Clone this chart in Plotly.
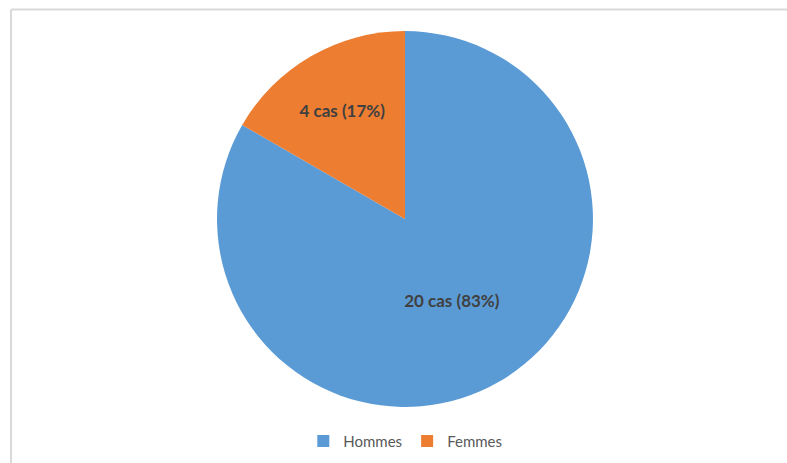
import plotly.graph_objects as go

labels = ["Hommes", "Femmes"]
cases = [20, 4]
colors = ["#5B9BD5", "#ED7D31"]

fig = go.Figure()
fig.add_trace(go.Pie(
    labels=labels,
    values=cases,
    sort=False,
    direction="clockwise",
    rotation=0,
    marker=dict(colors=colors, line=dict(width=0)),
    texttemplate="<b>%{value} cas (%{percent:.0%})</b>",
    textposition="inside",
    insidetextorientation="horizontal",
    textfont=dict(family="Lato, Carlito, sans-serif", size=17, color="#404040"),
    hoverinfo="label+value+percent",
    domain=dict(x=[0.2757, 0.7535], y=[0.121, 0.933]),
))

fig.update_layout(
    width=787, height=463,
    margin=dict(l=0, r=0, t=0, b=0),
    paper_bgcolor="white",
    plot_bgcolor="white",
    showlegend=True,
    legend=dict(
        orientation="h",
        x=0.515, xanchor="center",
        y=0.047, yanchor="middle",
        font=dict(family="Lato, Carlito, sans-serif", size=15, color="#595959"),
        itemwidth=30,
    ),
    shapes=[
        dict(type="line", xref="paper", yref="paper", x0=11/787, x1=1, y0=(463-9.5)/463, y1=(463-9.5)/463,
             line=dict(color="#D9D9D9", width=2)),
        dict(type="line", xref="paper", yref="paper", x0=11/787, x1=11/787, y0=0, y1=(463-9.5)/463,
             line=dict(color="#D9D9D9", width=2)),
    ],
)

fig.write_html("out.html")
